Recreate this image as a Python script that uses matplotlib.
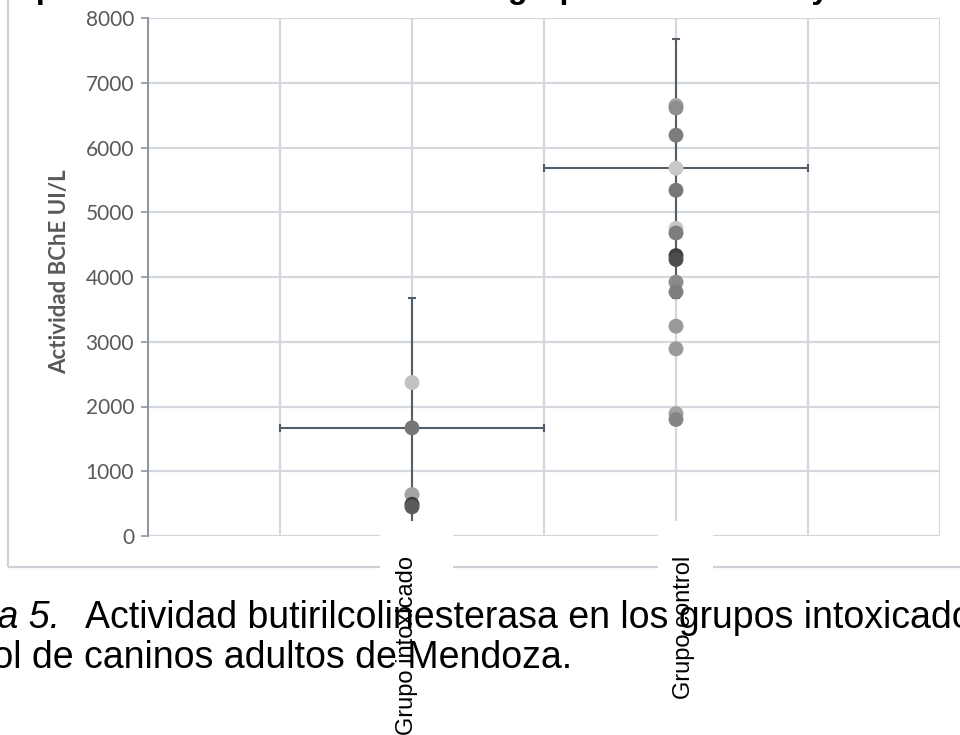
import matplotlib.pyplot as plt
from matplotlib.patches import Rectangle

# Datos (Actividad BChE UI/L)
grupos = ['Grupo intoxicado', 'Grupo control']
grupo_x = [1, 2]
medias = [1670, 5680]
desvio = [2000, 2000]
ancho_x = [0.5, 0.5]

intox_vals = [2370, 640, 490, 450]
intox_colores = ['#c2c2c2', '#a3a3a3', '#3f3f3f', '#5a5a5a']
control_vals = [6650, 6610, 6190, 5340, 4750, 4680, 4330, 4270, 3920,
                3770, 3240, 2890, 1890, 1800]
control_colores = ['#a8a8a8', '#8e8e8e', '#7c7c7c', '#777777', '#c6c6c6',
                   '#7d7d7d', '#3e3e3e', '#4d4d4d', '#8a8a8a', '#7e7e7e',
                   '#999999', '#9a9a9a', '#a2a2a2', '#858585']
media_colores = ['#767676', '#c8c8c8']

yticks = [0, 1000, 2000, 3000, 4000, 5000, 6000, 7000, 8000]
xgrid = [0, 0.5, 1, 1.5, 2, 2.5, 3]
etiqueta_x = [0.98, 2.03]

W, H = 960, 735
fig = plt.figure(figsize=(W / 100, H / 100), dpi=100)
ax = fig.add_axes([148 / W, 1 - 536 / H, (940 - 148) / W, (536 - 18) / H])

grid_c = '#d3d8df'
# borde del area del grafico (recortado en la captura)
fig.patches.append(Rectangle((8 / W, 1 - 567 / H), 1.2, 1, transform=fig.transFigure,
                             fill=False, edgecolor='#ccd1d8', lw=1.6, zorder=0))

ax.set_xlim(0, 3)
ax.set_ylim(0, 8000)
ax.set_yticks(yticks)
ax.set_xticks(xgrid)
ax.tick_params(axis='x', length=0, labelbottom=False)
ax.tick_params(axis='y', length=5, width=1.2, color='#8f969f', labelcolor='#595959',
               labelsize=15, pad=5)
for lab in ax.get_yticklabels():
    lab.set_fontfamily('Lato')
ax.grid(True, color=grid_c, lw=1.6, zorder=0)
for s in ['top', 'right', 'bottom']:
    ax.spines[s].set_visible(False)
ax.spines['left'].set_color('#8f969f')
ax.spines['left'].set_linewidth(1.4)
ax.set_axisbelow(True)

ax.set_ylabel('Actividad BChE UI/L', fontfamily='Lato', fontweight='bold',
              fontsize=16, color='#595959')
ax.yaxis.set_label_coords(-0.0985, 0.51)

# barras de error (media +/- desvio)
ax.errorbar(grupo_x, medias, yerr=desvio, xerr=ancho_x, fmt='none', ecolor='#535e69',
            elinewidth=1.5, capsize=3, capthick=1.5, zorder=3)

# puntos individuales
ax.scatter([grupo_x[0]] * len(intox_vals), intox_vals, s=115, c=intox_colores,
           edgecolors='none', zorder=4)
ax.scatter([grupo_x[1]] * len(control_vals), control_vals, s=115, c=control_colores,
           edgecolors='none', zorder=4)
ax.scatter(grupo_x, medias, s=115, c=media_colores, edgecolors='none', zorder=5)

# fondos blancos de las etiquetas de categoria
for x0, x1 in [(380, 453), (658, 713)]:
    fig.patches.append(Rectangle((x0 / W, 0), (x1 - x0) / W, 1 - 521 / H,
                                 transform=fig.transFigure, facecolor='white',
                                 edgecolor='none', zorder=2))

for gx, g in zip(etiqueta_x, grupos):
    fig.text(gx, -0.0385, g, transform=ax.get_xaxis_transform(), rotation=90,
             ha='center', va='top', fontsize=17, fontfamily='Liberation Sans',
             zorder=6)

# titulo (cortado en la captura) y epigrafe del documento
fig.text(-35 / W, 1 + 2 / H, 'Comparación actividad BChE entre grupos intoxicados y control',
         fontsize=23, fontweight='bold', fontfamily='Liberation Sans', va='baseline')
fig.text(60 / W, 1 - 628 / H, 'Figura 5.', fontsize=27, fontstyle='italic',
         fontfamily='Liberation Sans', ha='right', va='baseline')
fig.text(85 / W, 1 - 628 / H, 'Actividad butirilcolinesterasa en los grupos intoxicado y',
         fontsize=27, fontfamily='Liberation Sans', ha='left', va='baseline')
fig.text(572 / W, 1 - 668 / H, 'control de caninos adultos de Mendoza.', fontsize=27,
         fontfamily='Liberation Sans', ha='right', va='baseline')

fig.savefig('out.png', dpi=100)
